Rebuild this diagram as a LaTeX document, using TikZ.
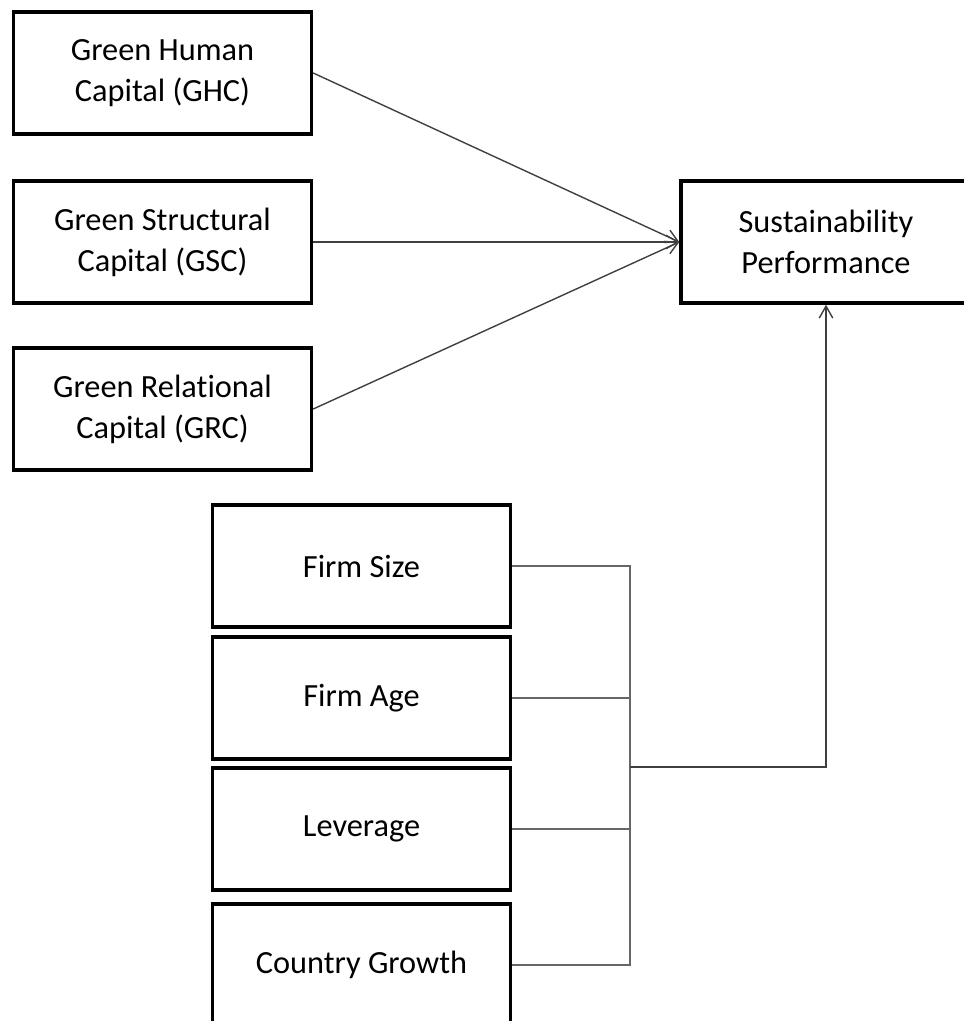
\documentclass[tikz,border=0pt]{standalone}
\usepackage{fontspec}
\setmainfont[Ligatures=NoCommon]{Carlito}
\usetikzlibrary{arrows.meta}

\begin{document}
\begin{tikzpicture}[x=0.025cm,y=-0.025cm,
    varbox/.style={draw,line width=0.085cm,minimum width=7.45cm,minimum height=3.05cm,
      align=center,font=\fontsize{23}{29}\selectfont},
    link/.style={line width=0.035cm,draw=black!75},
    ctrl/.style={line width=0.035cm,draw=black!60},
    tip/.style={-{Straight Barb[length=0.3cm,width=0.34cm,line width=0.035cm]}}]
    % Frame:
    \useasboundingbox (0,0) rectangle (964,1021);
    % Independent variables:
    \node[varbox] (ghc) at (162.5,73) {Green Human\\Capital (GHC)};
    \node[varbox] (gsc) at (162.5,242) {Green Structural\\Capital (GSC)};
    \node[varbox] (grc) at (162.5,409) {Green Relational\\Capital (GRC)};
    % Dependent variable:
    \node[varbox,minimum width=7.25cm] (sp) at (826,242) {Sustainability\\Performance};
    % Controls:
    \node[varbox] (size) at (361.5,566) {Firm Size};
    \node[varbox] (age) at (361.5,698) {Firm Age};
    \node[varbox] (lev) at (361.5,829) {Leverage};
    \node[varbox] (cgr) at (361.5,965) {Country Growth};
    \coordinate (join) at (630,767);
    % Links:
    \draw[link,tip] (ghc.east) -- (sp.west);
    \draw[link,tip] (gsc.east) -- (sp.west);
    \draw[link,tip] (grc.east) -- (sp.west);
    \draw[ctrl] (size.east) -| (join);
    \draw[ctrl] (cgr.east) -| (join);
    \draw[ctrl] (age.east) -- (age.east -| join);
    \draw[ctrl] (lev.east) -- (lev.east -| join);
    \draw[link,tip] (join) -| (sp.south);
  \end{tikzpicture}
\end{document}
